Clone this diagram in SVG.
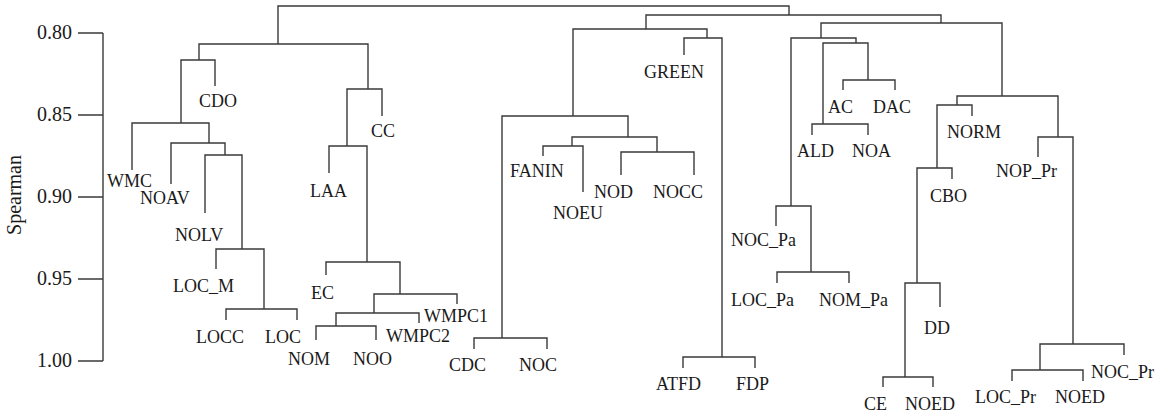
<svg xmlns="http://www.w3.org/2000/svg" width="1168" height="416" viewBox="0 0 1168 416">
<style>
.ln{fill:none;stroke:#3a3a3a;stroke-width:1.4}
.lb{font-family:"Liberation Serif",serif;font-size:18px;fill:#1a1a1a}
.tk{font-family:"Liberation Serif",serif;font-size:20px;fill:#1a1a1a;text-anchor:end}
</style>
<rect width="1168" height="416" fill="#fff"/>
<g id="axis">
<path class="ln" d="M103 33V361M78 33H103M78 115H103M78 197H103M78 279H103M78 361H103"/>
<text class="tk" x="72" y="39">0.80</text>
<text class="tk" x="72" y="121">0.85</text>
<text class="tk" x="72" y="203">0.90</text>
<text class="tk" x="72" y="285">0.95</text>
<text class="tk" x="72" y="367">1.00</text>
<text font-family="Liberation Serif,serif" font-size="20" fill="#1a1a1a" text-anchor="middle" transform="translate(21 195) rotate(-90)">Spearman</text>
</g>
<g id="connectors" class="ln">
<path d="M278 44V6H789V15"/>
<path d="M199 60V44H368V89"/>
<path d="M181 123V60H215V86"/>
<path d="M132 170V123H209V143"/>
<path d="M171 184V143H225V155"/>
<path d="M205 213V155H242V249"/>
<path d="M216 269V249H264V309"/>
<path d="M226 320V309H297V320"/>
<path d="M347 146V89H382V116"/>
<path d="M329 173V146H367V262"/>
<path d="M326 275V262H400V294"/>
<path d="M374 313V294H457V304"/>
<path d="M336 326V313H419V323"/>
<path d="M316 340V326H376V340"/>
<path d="M646 29V15H941V23"/>
<path d="M573 116V29H707V38"/>
<path d="M684 55V38H722V357"/>
<path d="M683 368V357H755V368"/>
<path d="M502 338V116H628V137"/>
<path d="M474 349V338H547V349"/>
<path d="M572 146V137H657V152"/>
<path d="M543 156V146H583V192"/>
<path d="M621 175V152H694V175"/>
<path d="M821 38V23H1002V96"/>
<path d="M791 206V38H856V43"/>
<path d="M823 124V43H868V80"/>
<path d="M843 90V80H895V90"/>
<path d="M812 135V124H868V135"/>
<path d="M776 226V206H811V272"/>
<path d="M777 283V272H849V283"/>
<path d="M957 105V96H1058V137"/>
<path d="M937 168V105H972V116"/>
<path d="M917 283V168H952V179"/>
<path d="M905 377V283H940V307"/>
<path d="M883 387V377H933V387"/>
<path d="M1038 157V137H1073V344"/>
<path d="M1040 370V344H1124V355"/>
<path d="M1012 381V370H1083V381"/>
</g>
<g id="n-CDO"><text class="lb" x="199" y="107">CDO</text></g>
<g id="n-WMC"><text class="lb" x="107" y="187">WMC</text></g>
<g id="n-NOAV"><text class="lb" x="140" y="204">NOAV</text></g>
<g id="n-NOLV"><text class="lb" x="175" y="241">NOLV</text></g>
<g id="n-LOC_M"><text class="lb" x="173" y="292">LOC_M</text></g>
<g id="n-LOCC"><text class="lb" x="196" y="343">LOCC</text></g>
<g id="n-LOC"><text class="lb" x="265" y="343">LOC</text></g>
<g id="n-CC"><text class="lb" x="371" y="137">CC</text></g>
<g id="n-LAA"><text class="lb" x="310" y="197">LAA</text></g>
<g id="n-EC"><text class="lb" x="311" y="299">EC</text></g>
<g id="n-WMPC1"><text class="lb" x="424" y="322">WMPC1</text></g>
<g id="n-WMPC2"><text class="lb" x="386" y="342">WMPC2</text></g>
<g id="n-NOM"><text class="lb" x="288" y="365">NOM</text></g>
<g id="n-NOO"><text class="lb" x="353" y="365">NOO</text></g>
<g id="n-CDC"><text class="lb" x="449" y="371">CDC</text></g>
<g id="n-NOC"><text class="lb" x="519" y="371">NOC</text></g>
<g id="n-FANIN"><text class="lb" x="510" y="177">FANIN</text></g>
<g id="n-NOEU"><text class="lb" x="553" y="219">NOEU</text></g>
<g id="n-NOD"><text class="lb" x="594" y="198">NOD</text></g>
<g id="n-NOCC"><text class="lb" x="653" y="198">NOCC</text></g>
<g id="n-GREEN"><text class="lb" x="644" y="78">GREEN</text></g>
<g id="n-ATFD"><text class="lb" x="656" y="390">ATFD</text></g>
<g id="n-FDP"><text class="lb" x="736" y="390">FDP</text></g>
<g id="n-AC"><text class="lb" x="828" y="113">AC</text></g>
<g id="n-DAC"><text class="lb" x="873" y="113">DAC</text></g>
<g id="n-ALD"><text class="lb" x="797" y="157">ALD</text></g>
<g id="n-NOA"><text class="lb" x="852" y="157">NOA</text></g>
<g id="n-NOC_Pa"><text class="lb" x="731" y="246">NOC_Pa</text></g>
<g id="n-LOC_Pa"><text class="lb" x="731" y="306">LOC_Pa</text></g>
<g id="n-NOM_Pa"><text class="lb" x="819" y="306">NOM_Pa</text></g>
<g id="n-NORM"><text class="lb" x="947" y="138">NORM</text></g>
<g id="n-CBO"><text class="lb" x="930" y="202">CBO</text></g>
<g id="n-DD"><text class="lb" x="924" y="334">DD</text></g>
<g id="n-CE"><text class="lb" x="864" y="410">CE</text></g>
<g id="n-NOED1"><text class="lb" x="905" y="410">NOED</text></g>
<g id="n-NOP_Pr"><text class="lb" x="996" y="177">NOP_Pr</text></g>
<g id="n-NOC_Pr"><text class="lb" x="1091" y="378">NOC_Pr</text></g>
<g id="n-LOC_Pr"><text class="lb" x="975" y="403">LOC_Pr</text></g>
<g id="n-NOED2"><text class="lb" x="1055" y="403">NOED</text></g>
</svg>
